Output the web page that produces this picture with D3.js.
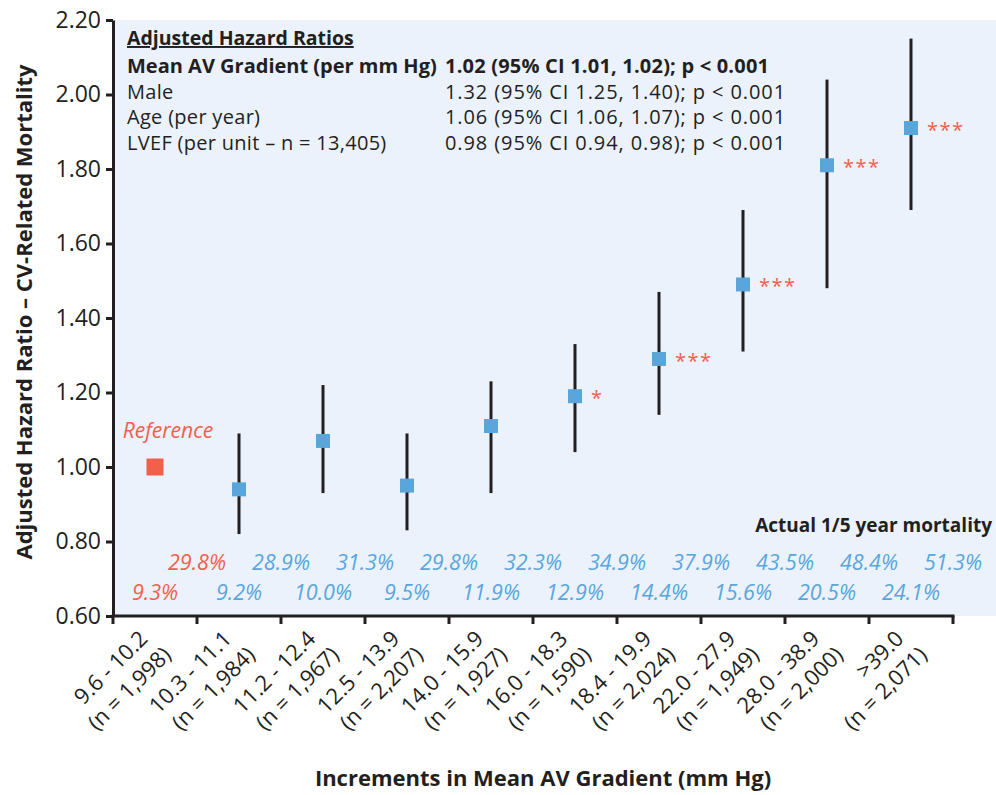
<!DOCTYPE html>
<html><head><meta charset="utf-8">
<script src="https://cdn.jsdelivr.net/npm/d3@7"></script>
<style>
body{margin:0;background:#fff;}
svg{display:block;font-family:"Open Sans","Noto Sans",sans-serif;}
</style></head>
<body><svg id="c" width="996" height="795"></svg>
<script>
const categories = ["9.6 - 10.2","10.3 - 11.1","11.2 - 12.4","12.5 - 13.9","14.0 - 15.9","16.0 - 18.3","18.4 - 19.9","22.0 - 27.9","28.0 - 38.9",">39.0"];
const counts = ["(n = 1,998)","(n = 1,984)","(n = 1,967)","(n = 2,207)","(n = 1,927)","(n = 1,590)","(n = 2,024)","(n = 1,949)","(n = 2,000)","(n = 2,071)"];
const hazard = [1.00,0.94,1.07,0.95,1.11,1.19,1.29,1.49,1.81,1.91];
const ciLow  = [null,0.82,0.93,0.83,0.93,1.04,1.14,1.31,1.48,1.69];
const ciHigh = [null,1.09,1.22,1.09,1.23,1.33,1.47,1.69,2.04,2.15];
const signif = ["","","","","","*","***","***","***","***"];
const mort5yr = ["29.8%","28.9%","31.3%","29.8%","32.3%","34.9%","37.9%","43.5%","48.4%","51.3%"];
const mort1yr = ["9.3%","9.2%","10.0%","9.5%","11.9%","12.9%","14.4%","15.6%","20.5%","24.1%"];
const yTicks = [0.6,0.8,1.0,1.2,1.4,1.6,1.8,2.0,2.2];
const hrLabels = ["Mean AV Gradient (per mm Hg)","Male","Age (per year)","LVEF (per unit – n = 13,405)"];
const hrValues = ["1.02 (95% CI 1.01, 1.02); p < 0.001","1.32 (95% CI 1.25, 1.40); p < 0.001","1.06 (95% CI 1.06, 1.07); p < 0.001","0.98 (95% CI 0.94, 0.98); p < 0.001"];

const RED="#f25f4c", BLUE="#5aa6db", DARK="#231f20", BG="#ebf2fb";
const svg=d3.select("#c");
const L=113,R=953,T=20,B=616;
const x=d3.scaleBand().domain(categories).range([L,R]);
const y=d3.scaleLinear().domain([0.6,2.2]).range([B,T]);

svg.append("rect").attr("x",L).attr("y",T).attr("width",996-L).attr("height",B-T).attr("fill",BG);

// y axis
const ya=svg.append("g").attr("transform",`translate(${L},0)`)
  .call(d3.axisLeft(y).tickValues(yTicks).tickFormat(d3.format(".2f")).tickSize(7).tickSizeOuter(0));
ya.select(".domain").attr("stroke",DARK).attr("stroke-width",3);
ya.selectAll(".tick line").attr("stroke",DARK).attr("stroke-width",3);
ya.selectAll(".tick text").attr("font-size",23).attr("fill",DARK).attr("x",-12).attr("font-family","Open Sans");

// x axis with ticks at band boundaries
const bounds=categories.map(c=>x(c)).concat([R]);
svg.append("line").attr("x1",L-1.5).attr("x2",R+1.5).attr("y1",B).attr("y2",B).attr("stroke",DARK).attr("stroke-width",3);
svg.selectAll(".xt").data(bounds).join("line").attr("x1",d=>d).attr("x2",d=>d).attr("y1",B).attr("y2",B+8).attr("stroke",DARK).attr("stroke-width",3);

// x tick labels
const xl=svg.selectAll(".xl").data(categories).join("g")
  .attr("transform",(d)=>`translate(${x(d)+x.bandwidth()/2-6},${B+24}) rotate(-45)`);
xl.append("text").attr("text-anchor","end").attr("font-size",22).attr("fill",DARK).text(d=>d);
xl.append("text").attr("text-anchor","end").attr("font-size",22).attr("fill",DARK).attr("x",5).attr("y",28).text((d,i)=>counts[i]);

// axis titles
svg.append("text").attr("x",543).attr("y",786).attr("text-anchor","middle").attr("font-size",22).attr("font-weight","bold").attr("fill",DARK).text("Increments in Mean AV Gradient (mm Hg)");
svg.append("text").attr("transform",`translate(32,312) rotate(-90)`).attr("text-anchor","middle").attr("font-size",22).attr("font-weight","bold").attr("fill",DARK).text("Adjusted Hazard Ratio – CV-Related Mortality");

// error bars
const cx=d=>x(d)+x.bandwidth()/2;
const idx=d3.range(categories.length);
svg.selectAll(".eb").data(idx.filter(i=>ciLow[i]!==null)).join("line")
  .attr("x1",i=>cx(categories[i])).attr("x2",i=>cx(categories[i]))
  .attr("y1",i=>y(ciLow[i])).attr("y2",i=>y(ciHigh[i])).attr("stroke",DARK).attr("stroke-width",3);
// markers
svg.selectAll(".mk").data(idx).join("rect")
  .attr("x",i=>cx(categories[i])-(i===0?8.5:7)).attr("y",i=>y(hazard[i])-(i===0?8.5:7))
  .attr("width",i=>i===0?17:14).attr("height",i=>i===0?17:14).attr("fill",i=>i===0?RED:BLUE);
// significance stars
svg.selectAll(".st").data(idx.filter(i=>signif[i])).join("text")
  .attr("x",i=>cx(categories[i])+16).attr("y",i=>y(hazard[i])+9)
  .attr("font-size",20).attr("fill",RED).attr("letter-spacing",1.5).text(i=>signif[i]);

svg.append("text").attr("x",168).attr("y",438).attr("text-anchor","middle").attr("font-size",21).attr("font-style","italic").attr("fill",RED).text("Reference");

// mortality rows
svg.append("text").attr("x",992).attr("y",532).attr("text-anchor","end").attr("font-size",19).attr("font-weight","bold").attr("fill",DARK).text("Actual 1/5 year mortality");
svg.selectAll(".m5").data(idx).join("text").attr("x",i=>bounds[i+1]).attr("y",570).attr("text-anchor","middle")
  .attr("font-size",21.5).attr("font-style","italic").attr("fill",i=>i===0?RED:BLUE).text(i=>mort5yr[i]);
svg.selectAll(".m1").data(idx).join("text").attr("x",i=>cx(categories[i])).attr("y",600).attr("text-anchor","middle")
  .attr("font-size",21.5).attr("font-style","italic").attr("fill",i=>i===0?RED:BLUE).text(i=>mort1yr[i]);

// hazard ratio box
const hb=svg.append("g");
hb.append("text").attr("x",127).attr("y",45).attr("font-size",19.5).attr("font-weight","bold").attr("fill",DARK).attr("text-decoration","underline").text("Adjusted Hazard Ratios");
hb.selectAll(".hl").data(hrLabels).join("text").attr("x",127).attr("y",(d,i)=>73+i*25.5).attr("font-size",20)
  .attr("font-weight",(d,i)=>i===0?"bold":"normal").attr("letter-spacing",(d,i)=>i===0?0:0.3).attr("fill",DARK).text(d=>d);
hb.selectAll(".hv").data(hrValues).join("text").attr("x",445).attr("y",(d,i)=>73+i*25.5).attr("font-size",20)
  .attr("font-weight",(d,i)=>i===0?"bold":"normal").attr("letter-spacing",(d,i)=>i===0?0.2:0.9).attr("fill",DARK).text(d=>d);
</script></body></html>
